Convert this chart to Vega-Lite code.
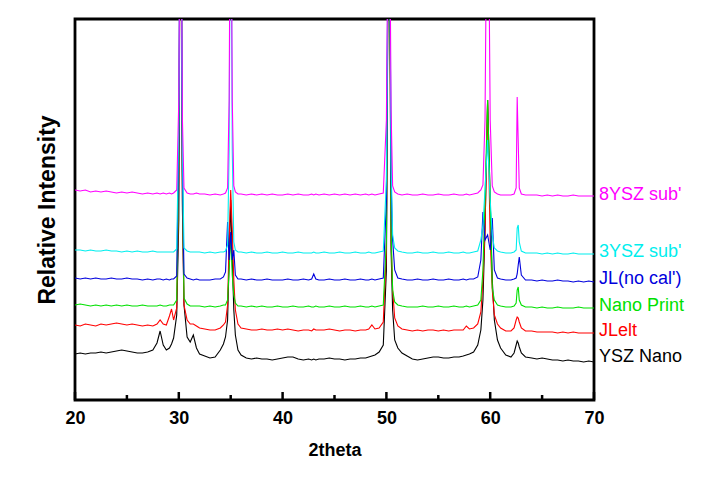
{
  "$schema": "https://vega.github.io/schema/vega-lite/v6.json",
  "autosize": "none",
  "width": 519,
  "height": 381,
  "padding": {"left": 75, "top": 19, "right": 122, "bottom": 80},
  "background": "white",
  "config": {
    "view": {"stroke": "#000000", "strokeWidth": 2.8},
    "font": "Liberation Sans"
  },
  "datasets": {
    "xrd": [
      {"x":20,"k":46,"r":75,"g":95,"b":122,"c":150,"m":210},
      {"x":20.5,"k":47,"r":74,"g":96,"b":121,"c":150,"m":209},
      {"x":21,"k":46,"r":76,"g":95,"b":122,"c":149,"m":210},
      {"x":21.5,"k":47,"r":75,"g":94,"b":121,"c":150,"m":208},
      {"x":22,"k":47,"r":74,"g":95,"b":122,"c":149,"m":209},
      {"x":22.5,"k":48,"r":76,"g":94,"b":121,"c":149,"m":208},
      {"x":23,"k":47,"r":75,"g":95,"b":121,"c":150,"m":209},
      {"x":23.5,"k":48,"r":76,"g":94,"b":122,"c":149,"m":208},
      {"x":24,"k":49,"r":77,"g":95,"b":121,"c":149,"m":207},
      {"x":24.5,"k":50,"r":76,"g":94,"b":121,"c":148,"m":208},
      {"x":25,"k":49,"r":75,"g":95,"b":122,"c":149,"m":207},
      {"x":25.5,"k":48,"r":76,"g":94,"b":121,"c":148,"m":208},
      {"x":26,"k":47,"r":75,"g":94,"b":121,"c":149,"m":207},
      {"x":26.5,"k":47,"r":74,"g":95,"b":120,"c":148,"m":206},
      {"x":27,"k":48,"r":75,"g":94,"b":121,"c":148,"m":207},
      {"x":27.5,"k":50,"r":74,"g":94,"b":120,"c":149,"m":206},
      {"x":27.9,"k":57,"r":76,"g":94,"b":121,"c":148,"m":207},
      {"x":28.2,"k":69,"r":80,"g":95,"b":121,"c":148,"m":206},
      {"x":28.5,"k":55,"r":76,"g":94,"b":120,"c":148,"m":207},
      {"x":28.8,"k":50,"r":75,"g":94,"b":121,"c":148,"m":206},
      {"x":29.1,"k":52,"r":84,"g":95,"b":120,"c":148,"m":207},
      {"x":29.3,"k":56,"r":91,"g":95,"b":121,"c":148,"m":206},
      {"x":29.5,"k":62,"r":80,"g":95,"b":121,"c":148,"m":207},
      {"x":29.8,"k":85,"r":92,"g":100,"b":124,"c":151,"m":210},
      {"x":30.0,"k":180,"r":220,"g":240,"b":260,"c":280,"m":300},
      {"x":30.17,"k":600,"r":600,"g":600,"b":600,"c":600,"m":600},
      {"x":30.35,"k":190,"r":200,"g":220,"b":230,"c":250,"m":280},
      {"x":30.5,"k":95,"r":95,"g":102,"b":126,"c":152,"m":212},
      {"x":30.8,"k":63,"r":80,"g":96,"b":122,"c":149,"m":207},
      {"x":31.1,"k":58,"r":76,"g":94,"b":121,"c":148,"m":206},
      {"x":31.4,"k":65,"r":76,"g":94,"b":120,"c":148,"m":206},
      {"x":31.7,"k":52,"r":74,"g":94,"b":121,"c":148,"m":207},
      {"x":32.0,"k":46,"r":72,"g":94,"b":120,"c":148,"m":206},
      {"x":32.5,"k":44,"r":71,"g":93,"b":120,"c":147,"m":206},
      {"x":33,"k":42,"r":70,"g":94,"b":120,"c":148,"m":205},
      {"x":33.5,"k":43,"r":70,"g":93,"b":121,"c":147,"m":206},
      {"x":34.0,"k":50,"r":72,"g":94,"b":121,"c":148,"m":205},
      {"x":34.3,"k":56,"r":75,"g":95,"b":123,"c":148,"m":206},
      {"x":34.5,"k":63,"r":78,"g":95,"b":128,"c":149,"m":207},
      {"x":34.7,"k":80,"r":95,"g":100,"b":178,"c":155,"m":212},
      {"x":34.85,"k":140,"r":160,"g":130,"b":140,"c":250,"m":300},
      {"x":35.0,"k":200,"r":210,"g":165,"b":168,"c":600,"m":600},
      {"x":35.15,"k":140,"r":170,"g":125,"b":140,"c":250,"m":300},
      {"x":35.3,"k":90,"r":120,"g":105,"b":150,"c":158,"m":214},
      {"x":35.45,"k":65,"r":90,"g":97,"b":125,"c":150,"m":208},
      {"x":35.7,"k":50,"r":76,"g":94,"b":121,"c":148,"m":206},
      {"x":36.0,"k":45,"r":72,"g":94,"b":121,"c":148,"m":206},
      {"x":36.5,"k":42,"r":71,"g":93,"b":120,"c":147,"m":205},
      {"x":37,"k":41,"r":70,"g":94,"b":121,"c":148,"m":206},
      {"x":37.5,"k":42,"r":70,"g":93,"b":120,"c":147,"m":205},
      {"x":38,"k":41,"r":71,"g":94,"b":120,"c":147,"m":206},
      {"x":38.5,"k":41,"r":70,"g":93,"b":121,"c":148,"m":205},
      {"x":39,"k":40,"r":70,"g":93,"b":120,"c":147,"m":206},
      {"x":39.5,"k":41,"r":71,"g":94,"b":120,"c":147,"m":205},
      {"x":40,"k":42,"r":70,"g":93,"b":120,"c":148,"m":205},
      {"x":40.5,"k":43,"r":71,"g":93,"b":121,"c":147,"m":206},
      {"x":41,"k":43,"r":70,"g":94,"b":120,"c":147,"m":205},
      {"x":41.5,"k":41,"r":69,"g":93,"b":120,"c":148,"m":206},
      {"x":42,"k":40,"r":70,"g":93,"b":121,"c":147,"m":205},
      {"x":42.5,"k":41,"r":70,"g":94,"b":120,"c":147,"m":205},
      {"x":42.8,"k":40,"r":69,"g":93,"b":121,"c":147,"m":206},
      {"x":43.0,"k":41,"r":71,"g":93,"b":126,"c":148,"m":205},
      {"x":43.2,"k":40,"r":70,"g":94,"b":121,"c":147,"m":206},
      {"x":43.5,"k":41,"r":70,"g":93,"b":120,"c":147,"m":205},
      {"x":44,"k":41,"r":70,"g":93,"b":120,"c":148,"m":206},
      {"x":44.5,"k":42,"r":71,"g":94,"b":121,"c":147,"m":205},
      {"x":45,"k":41,"r":70,"g":93,"b":120,"c":147,"m":206},
      {"x":45.5,"k":41,"r":69,"g":93,"b":120,"c":148,"m":205},
      {"x":46,"k":40,"r":70,"g":94,"b":121,"c":147,"m":206},
      {"x":46.5,"k":41,"r":70,"g":93,"b":120,"c":147,"m":205},
      {"x":47,"k":41,"r":69,"g":93,"b":120,"c":148,"m":206},
      {"x":47.5,"k":42,"r":70,"g":94,"b":121,"c":147,"m":205},
      {"x":48,"k":42,"r":70,"g":93,"b":120,"c":147,"m":206},
      {"x":48.3,"k":43,"r":71,"g":93,"b":120,"c":148,"m":205},
      {"x":48.6,"k":44,"r":75,"g":94,"b":121,"c":147,"m":206},
      {"x":48.9,"k":45,"r":71,"g":93,"b":120,"c":147,"m":205},
      {"x":49.3,"k":48,"r":72,"g":94,"b":121,"c":148,"m":206},
      {"x":49.7,"k":55,"r":78,"g":95,"b":122,"c":149,"m":207},
      {"x":50.0,"k":130,"r":150,"g":160,"b":200,"c":220,"m":280},
      {"x":50.25,"k":600,"r":600,"g":600,"b":600,"c":600,"m":600},
      {"x":50.45,"k":150,"r":160,"g":170,"b":220,"c":240,"m":290},
      {"x":50.6,"k":90,"r":110,"g":110,"b":160,"c":165,"m":214},
      {"x":50.8,"k":60,"r":82,"g":98,"b":130,"c":152,"m":208},
      {"x":51.1,"k":52,"r":74,"g":95,"b":122,"c":149,"m":206},
      {"x":51.5,"k":47,"r":71,"g":94,"b":121,"c":148,"m":205},
      {"x":52,"k":44,"r":70,"g":93,"b":120,"c":147,"m":206},
      {"x":52.5,"k":41,"r":69,"g":93,"b":120,"c":147,"m":205},
      {"x":53,"k":40,"r":70,"g":93,"b":121,"c":148,"m":205},
      {"x":53.5,"k":41,"r":69,"g":94,"b":120,"c":147,"m":206},
      {"x":54,"k":42,"r":70,"g":93,"b":120,"c":147,"m":205},
      {"x":54.5,"k":43,"r":70,"g":93,"b":121,"c":148,"m":205},
      {"x":55,"k":43,"r":69,"g":94,"b":120,"c":147,"m":206},
      {"x":55.5,"k":42,"r":70,"g":93,"b":120,"c":147,"m":205},
      {"x":56,"k":42,"r":69,"g":93,"b":121,"c":148,"m":205},
      {"x":56.5,"k":43,"r":70,"g":94,"b":120,"c":147,"m":206},
      {"x":57,"k":43,"r":70,"g":93,"b":120,"c":147,"m":205},
      {"x":57.4,"k":44,"r":70,"g":93,"b":121,"c":148,"m":205},
      {"x":57.7,"k":45,"r":74,"g":94,"b":120,"c":147,"m":206},
      {"x":58.0,"k":46,"r":71,"g":93,"b":121,"c":147,"m":205},
      {"x":58.4,"k":48,"r":72,"g":94,"b":121,"c":148,"m":206},
      {"x":58.8,"k":55,"r":76,"g":95,"b":123,"c":149,"m":207},
      {"x":59.1,"k":70,"r":88,"g":100,"b":140,"c":160,"m":210},
      {"x":59.3,"k":100,"r":120,"g":130,"b":188,"c":175,"m":215},
      {"x":59.5,"k":170,"r":170,"g":200,"b":160,"c":210,"m":280},
      {"x":59.75,"k":300,"r":300,"g":300,"b":165,"c":260,"m":600},
      {"x":60.0,"k":200,"r":160,"g":200,"b":150,"c":200,"m":280},
      {"x":60.2,"k":120,"r":110,"g":112,"b":182,"c":165,"m":214},
      {"x":60.4,"k":80,"r":85,"g":100,"b":130,"c":152,"m":208},
      {"x":60.7,"k":60,"r":76,"g":95,"b":122,"c":149,"m":206},
      {"x":61.0,"k":52,"r":72,"g":94,"b":121,"c":148,"m":205},
      {"x":61.5,"k":45,"r":69,"g":93,"b":120,"c":147,"m":205},
      {"x":62.0,"k":43,"r":69,"g":93,"b":120,"c":147,"m":205},
      {"x":62.3,"k":47,"r":72,"g":94,"b":121,"c":148,"m":206},
      {"x":62.5,"k":55,"r":80,"g":97,"b":122,"c":150,"m":212},
      {"x":62.6,"k":59,"r":83,"g":110,"b":126,"c":172,"m":303},
      {"x":62.7,"k":57,"r":82,"g":113,"b":135,"c":175,"m":258},
      {"x":62.8,"k":53,"r":78,"g":100,"b":143,"c":158,"m":212},
      {"x":63.0,"k":47,"r":72,"g":95,"b":125,"c":149,"m":206},
      {"x":63.4,"k":43,"r":69,"g":93,"b":120,"c":147,"m":205},
      {"x":64,"k":42,"r":69,"g":93,"b":120,"c":147,"m":205},
      {"x":64.5,"k":41,"r":68,"g":92,"b":119,"c":147,"m":205},
      {"x":65,"k":42,"r":68,"g":93,"b":120,"c":146,"m":204},
      {"x":65.5,"k":41,"r":68,"g":92,"b":119,"c":147,"m":205},
      {"x":66,"k":40,"r":68,"g":92,"b":119,"c":146,"m":204},
      {"x":66.5,"k":40,"r":67,"g":93,"b":120,"c":147,"m":205},
      {"x":67,"k":39,"r":68,"g":92,"b":119,"c":146,"m":204},
      {"x":67.5,"k":40,"r":67,"g":92,"b":119,"c":146,"m":204},
      {"x":68,"k":39,"r":68,"g":92,"b":118,"c":147,"m":205},
      {"x":68.5,"k":39,"r":67,"g":93,"b":119,"c":146,"m":204},
      {"x":69,"k":38,"r":67,"g":92,"b":118,"c":146,"m":204},
      {"x":69.5,"k":39,"r":67,"g":92,"b":119,"c":146,"m":204},
      {"x":70,"k":38,"r":67,"g":92,"b":118,"c":146,"m":204}
    ],
    "serieslabels": [
      {"key":"m","label":"8YSZ sub'","x":70,"y":205},
      {"key":"c","label":"3YSZ sub'","x":70,"y":148},
      {"key":"b","label":"JL(no cal')","x":70,"y":121},
      {"key":"g","label":"Nano Print","x":70,"y":94},
      {"key":"r","label":"JLelt","x":70,"y":69},
      {"key":"k","label":"YSZ Nano","x":70,"y":43}
    ],
    "tickmarks": [
      {"x":20,"len":8},{"x":25,"len":5},{"x":30,"len":8},{"x":35,"len":5},
      {"x":40,"len":8},{"x":45,"len":5},{"x":50,"len":8},{"x":55,"len":5},
      {"x":60,"len":8},{"x":65,"len":5},{"x":70,"len":8}
    ]
  },
  "layer": [
    {
      "data": {"name": "xrd"},
      "transform": [{"fold": ["k","r","g","b","c","m"], "as": ["key","intensity"]}],
      "mark": {"type": "line", "clip": true, "strokeWidth": 1.1, "interpolate": "linear"},
      "encoding": {
        "x": {
          "field": "x", "type": "quantitative",
          "scale": {"domain": [20, 70], "nice": false, "zero": false, "padding": 0},
          "axis": {
            "title": "2theta",
            "values": [20,30,40,50,60,70],
            "domain": false, "grid": false,
            "ticks": false,
            "labelFlush": false,
            "labelFont": "Liberation Sans", "labelFontSize": 18, "labelFontWeight": "bold", "labelColor": "#000000",
            "labelPadding": 9,
            "titleFont": "Liberation Sans", "titleFontSize": 18, "titleFontWeight": "bold", "titleColor": "#000000",
            "titlePadding": 14
          }
        },
        "y": {
          "field": "intensity", "type": "quantitative",
          "scale": {"domain": [0, 381], "nice": false, "zero": true, "padding": 0},
          "axis": {
            "title": "Relative Intensity",
            "labels": false, "ticks": false, "domain": false, "grid": false,
            "titleFont": "Liberation Sans", "titleFontSize": 23, "titleFontWeight": "bold", "titleColor": "#000000",
            "titleBaseline": "alphabetic",
            "titleX": -21
          }
        },
        "color": {
          "field": "key", "type": "nominal",
          "scale": {"domain": ["k","r","g","b","c","m"], "range": ["#000000","#ff0000","#00e000","#0000dd","#00eeee","#ff00ff"]},
          "legend": null
        },
        "order": {"field": "x", "type": "quantitative"}
      }
    },
    {
      "data": {"name": "tickmarks"},
      "mark": {"type": "bar", "color": "#000000", "width": 2.5, "clip": false},
      "encoding": {
        "x": {"field": "x", "type": "quantitative"},
        "y": {"field": "len", "type": "quantitative"}
      }
    },
    {
      "data": {"name": "serieslabels"},
      "mark": {"type": "text", "align": "left", "baseline": "middle", "dx": 5, "fontSize": 18, "font": "Liberation Sans", "clip": false},
      "encoding": {
        "x": {"field": "x", "type": "quantitative"},
        "y": {"field": "y", "type": "quantitative"},
        "text": {"field": "label"},
        "color": {"field": "key", "type": "nominal", "legend": null}
      }
    }
  ]
}
